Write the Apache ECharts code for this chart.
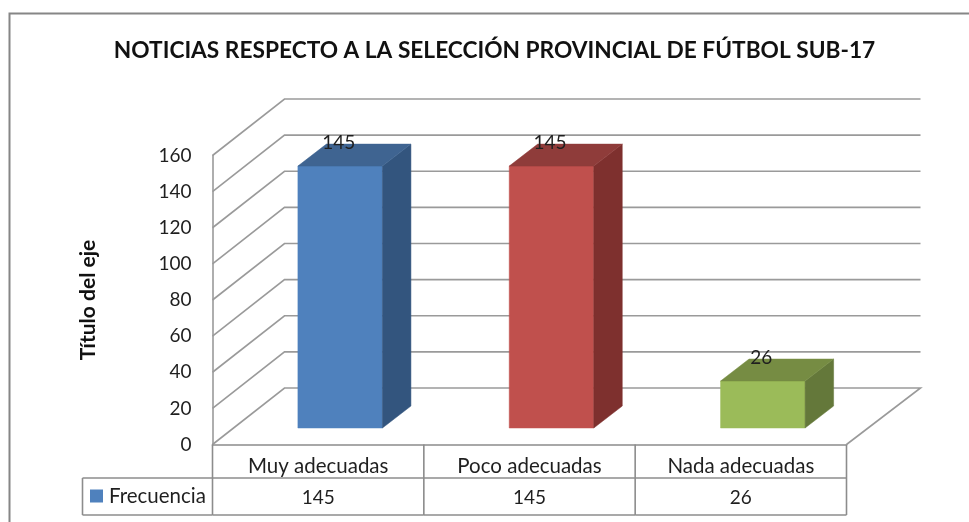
<!DOCTYPE html>
<html>
<head>
<meta charset="utf-8">
<style>html,body{margin:0;padding:0;background:#fff}#c{width:969px;height:522px}</style>
<script src="https://cdn.jsdelivr.net/npm/echarts@6/dist/echarts.min.js"></script>
</head>
<body>
<div id="c"></div>
<script>
const titleText = 'NOTICIAS RESPECTO A LA SELECCIÓN PROVINCIAL DE FÚTBOL SUB-17';
const yAxisName = 'Título del eje';
const seriesName = 'Frecuencia';
const categories = ['Muy adecuadas', 'Poco adecuadas', 'Nada adecuadas'];
const values = [145, 145, 26];
const yTicks = [0, 20, 40, 60, 80, 100, 120, 140, 160];

const frontColors = ['#4F81BD', '#C0504D', '#9BBB59'];
const sideColors = ['#33557E', '#7E302E', '#64783A'];
const topColors = ['#3F6491', '#8F3C3A', '#768C43'];

const FONT = 'Lato, "Open Sans", sans-serif';
const TEXT = '#1f1f1f';
const LINE = '#9a9a9a';
const TABLE = '#8c8c8c';
const WALL = {dx: 72, dy: 56.5, extra: 2};
const BAR = {ratio: 0.4, shiftX: 22, shiftY: 16.5, dx: 28.5, dy: 22};
const ROW1 = 33.5, ROW2 = 70.5, KEY_LEFT = 130;

function renderWall(params, api) {
  const cs = params.coordSys;
  const v = api.value(1);
  const y = api.coord([0, v])[1];
  const x0 = cs.x, x1 = cs.x + cs.width;
  const pts = [[x0, y], [x0 + WALL.dx, y - WALL.dy], [x1 + WALL.dx + WALL.extra, y - WALL.dy]];
  if (v === 0) pts.push([x1, y]);
  return {type: 'polyline', shape: {points: pts}, style: {stroke: LINE, lineWidth: 1.6, fill: null}};
}

function renderBar(params, api) {
  const i = api.value(0), v = api.value(1);
  const c = api.coord([i, v]);
  const base = api.coord([i, 0]);
  const w = api.size([1, 0])[0] * BAR.ratio;
  const l = c[0] + BAR.shiftX - w / 2, r = l + w;
  const t = c[1] - BAR.shiftY, b = base[1] - BAR.shiftY;
  const poly = (points, fill) => ({type: 'polygon', shape: {points}, style: {fill, stroke: fill, lineWidth: 0.5}});
  return {type: 'group', children: [
    poly([[l, t], [r, t], [r, b], [l, b]], frontColors[i]),
    poly([[r, t], [r + BAR.dx, t - BAR.dy], [r + BAR.dx, b - BAR.dy], [r, b]], sideColors[i]),
    poly([[l, t], [l + BAR.dx, t - BAR.dy], [r + BAR.dx, t - BAR.dy], [r, t]], topColors[i]),
    {type: 'text', z2: 10, style: {text: String(v), x: c[0] + BAR.shiftX - 1.5, y: t - 23,
      align: 'center', verticalAlign: 'middle', fill: TEXT, font: '19px ' + FONT}}
  ]};
}

function renderTable(params, api) {
  const cs = params.coordSys;
  const i = api.value(0), v = api.value(1);
  const c = api.coord([i, v]);
  const band = api.size([1, 0])[0];
  const base = cs.y + cs.height;
  const right = c[0] + band / 2;
  const line = (x1, y1, x2, y2) => ({type: 'line', shape: {x1, y1, x2, y2}, style: {stroke: TABLE, lineWidth: 1.6}});
  const children = [
    line(right, base, right, base + ROW2),
    line(right - band, base + ROW1, right, base + ROW1),
    line(right - band, base + ROW2, right, base + ROW2),
    {type: 'text', style: {text: String(v), x: c[0], y: base + 53, align: 'center', verticalAlign: 'middle',
      fill: TEXT, font: '19px ' + FONT}}
  ];
  if (i === 0) {
    const left = cs.x - KEY_LEFT;
    children.push(
      line(cs.x, base, cs.x, base + ROW2),
      line(left, base + ROW1, cs.x, base + ROW1),
      line(left, base + ROW2, cs.x, base + ROW2),
      line(left, base + ROW1, left, base + ROW2),
      {type: 'rect', shape: {x: left + 7.5, y: base + 45, width: 13, height: 13}, style: {fill: frontColors[0]}},
      {type: 'text', style: {text: seriesName, x: left + 26.5, y: base + 51.5, align: 'left', verticalAlign: 'middle',
        fill: TEXT, font: '20.5px ' + FONT}}
    );
  }
  return {type: 'group', children};
}

const chart = echarts.init(document.getElementById('c'), null, {renderer: 'canvas'});
chart.setOption({
  animation: false,
  backgroundColor: '#fff',
  title: {
    text: titleText, left: 489.5, top: 34, textAlign: 'center',
    textStyle: {fontFamily: FONT, fontSize: 22.7, fontWeight: 'bold', color: '#111'}
  },
  grid: {left: 212.5, top: 155.5, width: 634, height: 289},
  xAxis: {
    type: 'category', data: categories,
    axisLine: {show: true, lineStyle: {color: TABLE, width: 1.6}},
    axisTick: {show: false},
    splitLine: {show: false},
    axisLabel: {margin: 11, color: TEXT, fontFamily: FONT, fontSize: 20.5, interval: 0}
  },
  yAxis: {
    type: 'value', min: 0, max: 160, interval: 20,
    name: yAxisName, nameLocation: 'middle', nameRotate: 90, nameGap: 114,
    nameTextStyle: {fontFamily: FONT, fontSize: 21, fontWeight: 'bold', color: '#111'},
    axisLine: {show: true, lineStyle: {color: LINE, width: 1.6}},
    axisTick: {show: false},
    splitLine: {show: false},
    axisLabel: {margin: 21, color: TEXT, fontFamily: FONT, fontSize: 19, padding: [3, 0, 0, 0]}
  },
  graphic: [{
    type: 'polyline', silent: true,
    shape: {points: [[9.5, 522], [9.5, 13.5], [969, 13.5]]},
    style: {stroke: '#868686', lineWidth: 2, fill: null}
  }],
  series: [
    {type: 'custom', name: 'Paredes', coordinateSystem: 'cartesian2d', z: 1, silent: true, clip: false,
      renderItem: renderWall, data: yTicks.map(v => [0, v])},
    {type: 'custom', name: seriesName, coordinateSystem: 'cartesian2d', z: 3, silent: true, clip: false,
      renderItem: renderBar, data: values.map((v, i) => [i, v])},
    {type: 'custom', name: 'Tabla', coordinateSystem: 'cartesian2d', z: 2, silent: true, clip: false,
      renderItem: renderTable, data: values.map((v, i) => [i, v])}
  ]
});
</script>
</body>
</html>
